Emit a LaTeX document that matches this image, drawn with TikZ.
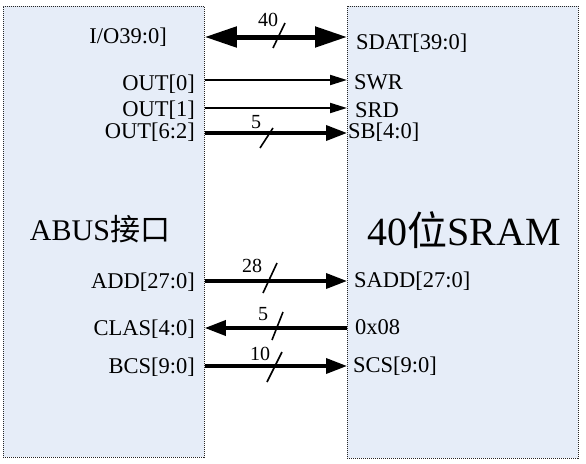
\documentclass[tikz,border=0pt]{standalone}
\usepackage{fontspec}
\setmainfont{Liberation Serif}
\newfontfamily\cjk{Noto Sans CJK SC}
\usetikzlibrary{arrows.meta}
\definecolor{boxfill}{HTML}{E6EDF8}
\tikzset{
  blk/.style={draw=black!85, fill=boxfill, line width=0.8pt, dash pattern=on 1pt off 1pt, inner sep=0pt, anchor=north west},
  lab/.style={font=\fontsize{22.5}{26}\selectfont, inner sep=0pt},
  num/.style={font=\fontsize{20}{23}\selectfont, inner sep=0pt, anchor=base},
  big/.style={inner sep=0pt, anchor=base},
  wide/.style={line width=5pt, {Triangle[length=32pt,width=20pt]}-{Triangle[length=32pt,width=20pt]}},
  thin/.style={line width=2pt, -{Triangle[length=17pt,width=10pt]}},
  bus/.style={line width=3.5pt, -{Triangle[length=21pt,width=15pt]}},
  slash/.style={line width=1.6pt}
}
\begin{document}
\begin{tikzpicture}[x=1pt,y=-1pt]
\useasboundingbox (0,0) rectangle (586,463);
\node[blk, minimum width=201pt, minimum height=451pt] (L) at (3,6) {};
\node[blk, minimum width=231pt, minimum height=452pt] (R) at (347,6) {};
% big titles
\node[big, font=\fontsize{30}{34}\selectfont] (lt) at (100,240) {ABUS{\cjk 接口}};
\node[big, font=\fontsize{40}{44}\selectfont] (rt) at (464,245) {40{\cjk 位}SRAM};
% left labels
\node[lab, anchor=base east] (l1) at (167,43) {I/O39:0]};
\node[lab, anchor=base east] (l2) at (195,90) {OUT[0]};
\node[lab, anchor=base east] (l3) at (195,116) {OUT[1]};
\node[lab, anchor=base east] (l4) at (195,138) {OUT[6:2]};
\node[lab, anchor=base east] (l5) at (195,288) {ADD[27:0]};
\node[lab, anchor=base east] (l6) at (195,335) {CLAS[4:0]};
\node[lab, anchor=base east] (l7) at (195,373) {BCS[9:0]};
% right labels
\node[lab, anchor=base west] (r1) at (356,49) {SDAT[39:0]};
\node[lab, anchor=base west] (r2) at (354,89) {SWR};
\node[lab, anchor=base west] (r3) at (355,117) {SRD};
\node[lab, anchor=base west] (r4) at (348,138) {SB[4:0]};
\node[lab, anchor=base west] (r5) at (354,287) {SADD[27:0]};
\node[lab, anchor=base west] (r6) at (355,334) {0x08};
\node[lab, anchor=base west] (r7) at (353,372) {SCS[9:0]};
% connectors
\draw[wide] (L.east |- 0,37) -- (R.west |- 0,37);
\draw[thin] (L.east |- 0,80) -- (R.west |- 0,80);
\draw[thin] (L.east |- 0,108) -- (R.west |- 0,108);
\draw[bus] (L.east |- 0,133) -- (R.west |- 0,133);
\draw[bus] (L.east |- 0,281) -- (R.west |- 0,281);
\draw[bus] (R.west |- 0,328) -- (L.east |- 0,328);
\draw[bus] (L.east |- 0,366) -- (R.west |- 0,366);
% bus width marks
\draw[slash] (273,48) -- (285,23);
\node[num] (n1) at (268,26) {40};
\draw[slash] (260,148) -- (273,128);
\node[num] (n2) at (256,128) {5};
\draw[slash] (263,293) -- (277,263);
\node[num] (n3) at (252,272) {28};
\draw[slash] (272,340) -- (283,312);
\node[num] (n4) at (263,320) {5};
\draw[slash] (267,382) -- (282,352);
\node[num] (n5) at (260,360) {10};
\end{tikzpicture}
\end{document}
